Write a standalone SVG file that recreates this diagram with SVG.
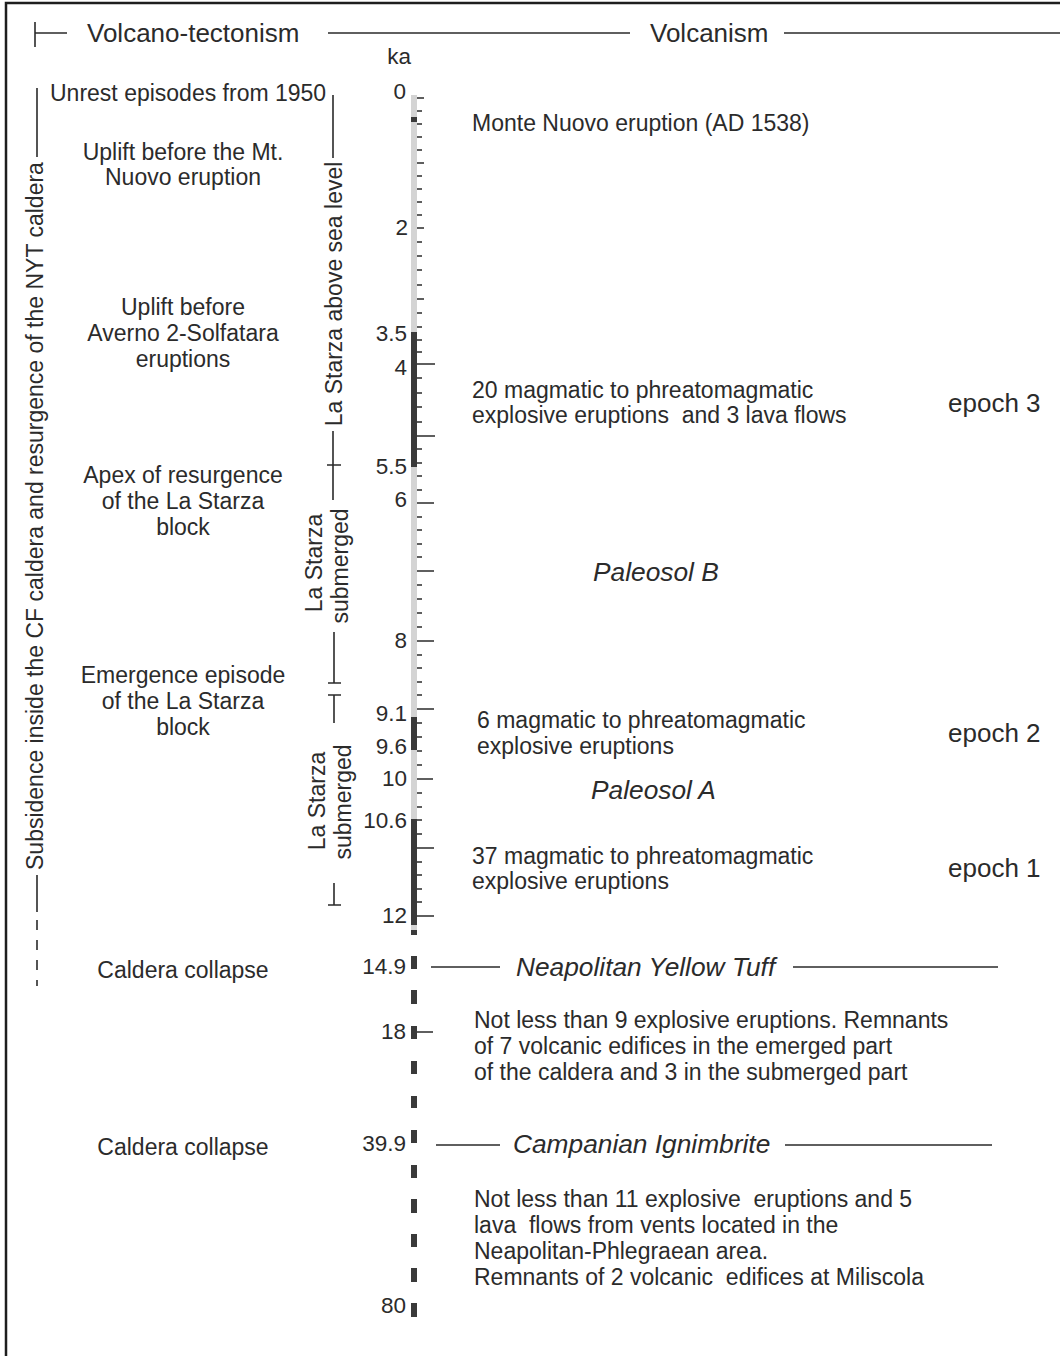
<svg xmlns="http://www.w3.org/2000/svg" width="1060" height="1356" viewBox="0 0 1060 1356">
<style>
.t{font-family:"Liberation Sans",Arial,sans-serif;font-size:23px;fill:#2b2b2b;white-space:pre}
.h{font-size:26px}
.s{font-size:22.5px;text-anchor:end}
.i{font-style:italic;font-size:26.3px}
.e{font-size:26px}
.c{text-anchor:middle}
.ln{stroke:#2b2b2b;stroke-width:1.6;fill:none}
.tk{stroke:#2b2b2b;stroke-width:1.6;fill:none}
.dk{fill:#3a3a3a}
</style>
<rect width="1060" height="1356" fill="#fff"/>
<g id="frame">
<path d="M6 1356 V3 H1060" stroke="#1e1e1e" stroke-width="2.5" fill="none"/>
</g>
<g id="connectors">
<path class="ln" d="M35 22 V47 M35 33 H67 M328 33 H630 M784 33 H1060"/>
<path class="ln" d="M37 88 V157 M37 875 V912"/>
<path class="ln" d="M37 920 V986" stroke-dasharray="10 10"/>
<path class="ln" d="M333 95 V158 M333 431 V500 M327 465 H341"/>
<path class="ln" d="M334 632 V683 M328 683 H341"/>
<path class="ln" d="M334 695 V723 M328 695 H341 M334 883 V905 M328 905 H341"/>
<path class="ln" d="M431 967 H500 M793 967 H998 M436 1145 H500 M785 1145 H992"/>
</g>
<g id="scale">
<rect x="411" y="95" width="6" height="835" fill="#d4d4d4"/>
<rect class="dk" x="411" y="117" width="6" height="5"/>
<rect class="dk" x="411" y="332" width="6" height="135"/>
<rect class="dk" x="411" y="717" width="6" height="33"/>
<rect class="dk" x="411" y="819" width="6" height="106"/>
<rect class="dk" x="411" y="930" width="6" height="5"/>
<rect class="dk" x="411" y="956" width="6" height="13"/>
<rect class="dk" x="411" y="990" width="6" height="14"/>
<rect class="dk" x="411" y="1026" width="6" height="13"/>
<rect class="dk" x="411" y="1061" width="6" height="13"/>
<rect class="dk" x="411" y="1096" width="6" height="12"/>
<rect class="dk" x="411" y="1130" width="6" height="13"/>
<rect class="dk" x="411" y="1165" width="6" height="13"/>
<rect class="dk" x="411" y="1199" width="6" height="14"/>
<rect class="dk" x="411" y="1234" width="6" height="13"/>
<rect class="dk" x="411" y="1268" width="6" height="14"/>
<rect class="dk" x="411" y="1303" width="6" height="14"/>
<path class="tk" stroke-width="1.3" d="M417 111 h5 M417 124 h5 M417 137 h5 M417 150 h5 M417 176 h5 M417 189 h5 M417 202 h5 M417 215 h5 M417 242 h5 M417 256 h5 M417 270 h5 M417 285 h5 M417 313 h5 M417 327 h5 M417 340 h5 M417 352 h5 M417 378 h5 M417 393 h5 M417 407 h5 M417 422 h5 M417 449 h5 M417 463 h5 M417 476 h5 M417 490 h5 M417 517 h5 M417 530 h5 M417 544 h5 M417 557 h5 M417 585 h5 M417 599 h5 M417 613 h5 M417 627 h5 M417 655 h5 M417 668 h5 M417 682 h5 M417 695 h5 M417 723 h5 M417 737 h5 M417 751 h5 M417 765 h5 M417 793 h5 M417 807 h5 M417 820 h5 M417 834 h5 M417 862 h5 M417 875 h5 M417 889 h5 M417 902 h5"/>
<path class="tk" d="M417 98 h7 M417 163 h7 M417 228 h7 M417 299 h7"/>
<path class="tk" d="M417 364 h18 M417 436 h18 M417 503 h17 M417 571 h17 M417 641 h17 M417 709 h17 M417 779 h16 M417 848 h17 M417 916 h17 M417 1032 h16"/>
</g>
<g id="scale-labels">
<text class="t s" x="411" y="64">ka</text>
<text class="t s" x="406" y="99">0</text>
<text class="t s" x="408" y="235">2</text>
<text class="t s" x="407" y="341">3.5</text>
<text class="t s" x="407" y="375">4</text>
<text class="t s" x="407" y="474">5.5</text>
<text class="t s" x="407" y="507">6</text>
<text class="t s" x="407" y="648">8</text>
<text class="t s" x="407" y="721">9.1</text>
<text class="t s" x="407" y="754">9.6</text>
<text class="t s" x="407" y="786">10</text>
<text class="t s" x="407" y="828">10.6</text>
<text class="t s" x="407" y="923">12</text>
<text class="t s" x="406" y="974">14.9</text>
<text class="t s" x="406" y="1039">18</text>
<text class="t s" x="406" y="1151">39.9</text>
<text class="t s" x="406" y="1313">80</text>
</g>
<g id="header-volcanotectonism"><text class="t h" x="87" y="42">Volcano-tectonism</text></g>
<g id="header-volcanism"><text class="t h" x="650" y="42">Volcanism</text></g>
<g id="subsidence"><text class="t" transform="translate(43,870) rotate(-90)">Subsidence inside the CF caldera and resurgence of the NYT caldera</text></g>
<g id="lastarza-above"><text class="t c" transform="translate(342,294) rotate(-90)">La Starza above sea level</text></g>
<g id="lastarza-sub1"><text class="t c" transform="translate(322,563) rotate(-90)">La Starza</text><text class="t c" transform="translate(348,566) rotate(-90)">submerged</text></g>
<g id="lastarza-sub2"><text class="t c" transform="translate(325,801) rotate(-90)">La Starza</text><text class="t c" transform="translate(351,802) rotate(-90)">submerged</text></g>
<g id="unrest"><text class="t" x="50" y="101">Unrest episodes from 1950</text></g>
<g id="uplift-mtnuovo"><text class="t c" x="183" y="160">Uplift before the Mt.</text><text class="t c" x="183" y="185">Nuovo eruption</text></g>
<g id="uplift-averno"><text class="t c" x="183" y="315">Uplift before</text><text class="t c" x="183" y="341">Averno 2-Solfatara</text><text class="t c" x="183" y="367">eruptions</text></g>
<g id="apex"><text class="t c" x="183" y="483">Apex of resurgence</text><text class="t c" x="183" y="509">of the La Starza</text><text class="t c" x="183" y="535">block</text></g>
<g id="emergence"><text class="t c" x="183" y="683">Emergence episode</text><text class="t c" x="183" y="709">of the La Starza</text><text class="t c" x="183" y="735">block</text></g>
<g id="collapse-nyt"><text class="t c" x="183" y="978">Caldera collapse</text></g>
<g id="collapse-ci"><text class="t c" x="183" y="1155">Caldera collapse</text></g>
<g id="monte-nuovo"><text class="t" x="472" y="131">Monte Nuovo eruption (AD 1538)</text></g>
<g id="epoch3-text"><text class="t" x="472" y="398">20 magmatic to phreatomagmatic</text><text class="t" x="472" y="423">explosive eruptions  and 3 lava flows</text></g>
<g id="epoch3"><text class="t e" x="948" y="412">epoch 3</text></g>
<g id="paleosol-b"><text class="t i" x="593" y="581">Paleosol B</text></g>
<g id="epoch2-text"><text class="t" x="477" y="728">6 magmatic to phreatomagmatic</text><text class="t" x="477" y="754">explosive eruptions</text></g>
<g id="epoch2"><text class="t e" x="948" y="742">epoch 2</text></g>
<g id="paleosol-a"><text class="t i" x="591" y="799">Paleosol A</text></g>
<g id="epoch1-text"><text class="t" x="472" y="864">37 magmatic to phreatomagmatic</text><text class="t" x="472" y="889">explosive eruptions</text></g>
<g id="epoch1"><text class="t e" x="948" y="877">epoch 1</text></g>
<g id="nyt"><text class="t i" x="516" y="976">Neapolitan Yellow Tuff</text></g>
<g id="pre-nyt"><text class="t" x="474" y="1028">Not less than 9 explosive eruptions. Remnants</text><text class="t" x="474" y="1054">of 7 volcanic edifices in the emerged part</text><text class="t" x="474" y="1080">of the caldera and 3 in the submerged part</text></g>
<g id="ci"><text class="t i" x="513" y="1153">Campanian Ignimbrite</text></g>
<g id="pre-ci"><text class="t" x="474" y="1207">Not less than 11 explosive  eruptions and 5</text><text class="t" x="474" y="1233">lava  flows from vents located in the</text><text class="t" x="474" y="1259">Neapolitan-Phlegraean area.</text><text class="t" x="474" y="1285">Remnants of 2 volcanic  edifices at Miliscola</text></g>
</svg>
